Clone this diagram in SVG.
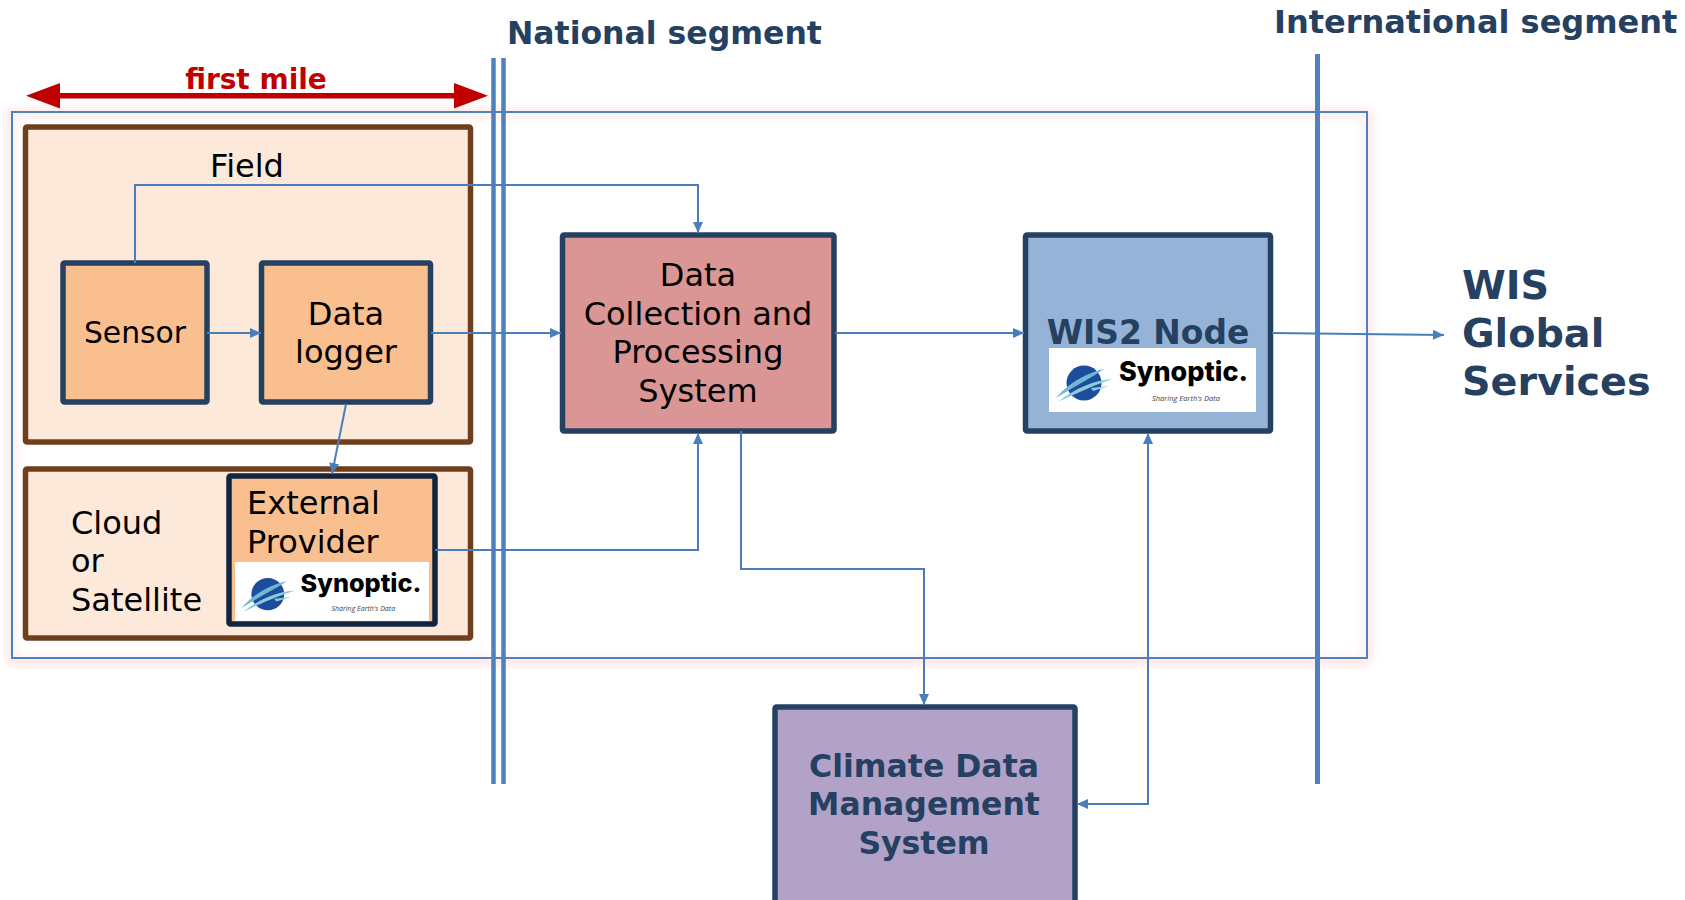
<svg xmlns="http://www.w3.org/2000/svg" width="1685" height="900" viewBox="0 0 1685 900">
<style>
text{font-family:"DejaVu Sans",Verdana,sans-serif;fill:#000}
.t{font-size:32px}
.h{font-size:31.500px;font-weight:bold;fill:#254061}
.m{text-anchor:middle}
.zone{fill:#fce9d9;stroke:#6f3f1d;stroke-width:5.500}
.box{stroke:#254061;stroke-width:5.500}
.c{fill:none;stroke:#4a7ebb;stroke-width:2}
.seg{stroke:#4f81bd;stroke-width:4.500;fill:none}
.big{font-size:39.700px;font-weight:bold;fill:#254061}
.syn{font-family:Inter,"Open Sans",sans-serif;font-weight:800;font-size:27px}
.tag{font-family:"Open Sans",sans-serif;font-style:italic;font-size:7.500px;fill:#444}
</style>
<defs>
<marker id="a" markerUnits="userSpaceOnUse" markerWidth="12" markerHeight="12" refX="11" refY="6" orient="auto-start-reverse"><path d="M0 1L11 6L0 11z" fill="#4a7ebb"/></marker>
<filter id="blur" x="-5%" y="-10%" width="110%" height="120%"><feGaussianBlur stdDeviation="5"/></filter>
<g id="logo">
<rect width="207" height="64" fill="#fff"/>
<circle cx="35" cy="35" r="17.500" fill="#1c4c9c"/>
<path d="M7 50C22 32 42 24 55 21C42 30 26 38 7 50z" fill="#6fb7d4"/>
<path d="M9 54C26 40 46 32 64 31C48 36 30 44 9 54z" fill="#8ccbdc"/>
<path d="M42 40L60 38L44 43z" fill="#8ccbdc"/>
<text class="syn" x="70" y="33" textLength="129" lengthAdjust="spacingAndGlyphs">Synoptic.</text>
<text class="tag" x="103" y="53">Sharing Earth's Data</text>
</g>
</defs>
<rect x="12" y="114" width="1355" height="546" fill="none" stroke="#ffc9c9" stroke-width="8" filter="url(#blur)" opacity="0.6"/>
<rect id="frame" x="12" y="112" width="1355" height="546" fill="#fff" fill-opacity="0.4" stroke="#4f81bd" stroke-width="2"/>
<g id="field"><rect class="zone" x="25.500" y="127" width="445" height="315" rx="1.500"/><text class="t m" x="247" y="177">Field</text></g>
<g id="cloud"><rect class="zone" x="25.500" y="469" width="445" height="169" rx="1.500"/><text class="t" x="71" y="534">Cloud</text><text class="t" x="71" y="572">or</text><text class="t" x="71" y="611">Satellite</text></g>
<g id="segments">
<path class="seg" d="M493.500 58V784M503.500 58V784"/>
<path class="seg" style="stroke-width:5" d="M1317.500 54V784"/>
</g>
<g id="sensor"><rect class="box" x="63" y="263" width="144" height="139" rx="1.500" fill="#f9bf8f"/><text class="m" style="font-size:29.800px" x="135" y="343">Sensor</text></g>
<g id="logger"><rect class="box" x="261.500" y="263" width="169" height="139" rx="1.500" fill="#f9bf8f"/><text class="t m" x="346" y="325">Data</text><text class="t m" x="346" y="363">logger</text></g>
<g id="external"><rect x="229" y="476" width="206" height="148" rx="1.500" fill="#f9bf8f" stroke="#10253f" stroke-width="5.500"/><text class="t" x="247" y="514">External</text><text class="t" x="247" y="553">Provider</text><use href="#logo" transform="translate(235 562) scale(.937 .92)"/></g>
<g id="dcps"><rect class="box" x="562.500" y="235" width="271.500" height="196" rx="1.500" fill="#d99694"/><text class="t m" x="698" y="286">Data</text><text class="t m" x="698" y="325">Collection and</text><text class="t m" x="698" y="363">Processing</text><text class="t m" x="698" y="402">System</text></g>
<g id="wis2"><rect class="box" x="1025.500" y="235" width="245" height="196" rx="1.500" fill="#95b3d7"/><text class="m" style="font-size:32.900px;font-weight:bold;fill:#254061" x="1148" y="344">WIS2 Node</text><use href="#logo" transform="translate(1049 348)"/></g>
<g id="cdms"><rect class="box" x="775" y="707" width="300" height="200" rx="1.500" fill="#b2a2c7"/><text class="h m" x="924" y="777">Climate Data</text><text class="h m" x="924" y="815">Management</text><text class="h m" x="924" y="854">System</text></g>
<g id="connectors">
<path class="c" marker-end="url(#a)" d="M135 263V185H698V233"/>
<path class="c" marker-end="url(#a)" d="M207 333H261"/>
<path class="c" marker-end="url(#a)" d="M431 333H561"/>
<path class="c" marker-end="url(#a)" d="M346 404L332 474"/>
<path class="c" marker-end="url(#a)" d="M435 550H698V433"/>
<path class="c" marker-end="url(#a)" d="M835 333H1024"/>
<path class="c" marker-end="url(#a)" d="M1272 333L1444 335"/>
<path class="c" marker-end="url(#a)" d="M741 431V569H924V705"/>
<path class="c" marker-start="url(#a)" marker-end="url(#a)" d="M1148 433V804H1077"/>
</g>
<g id="first-mile">
<path d="M60 95.700H454" stroke="#c00000" stroke-width="5.500"/>
<path d="M26 95.700L60 83V108.500zM488 95.700L454 83V108.500z" fill="#c00000"/>
<text x="256" y="89" class="m" style="font-size:28px;font-weight:bold;fill:#c00000">first mile</text>
</g>
<g id="labels">
<text class="h" x="507" y="44">National segment</text>
<text x="1274" y="33" style="font-size:32px;font-weight:bold;fill:#254061">International segment</text>
<text class="big" x="1462" y="299">WIS</text>
<text class="big" x="1462" y="347">Global</text>
<text class="big" x="1462" y="395">Services</text>
</g>
</svg>
